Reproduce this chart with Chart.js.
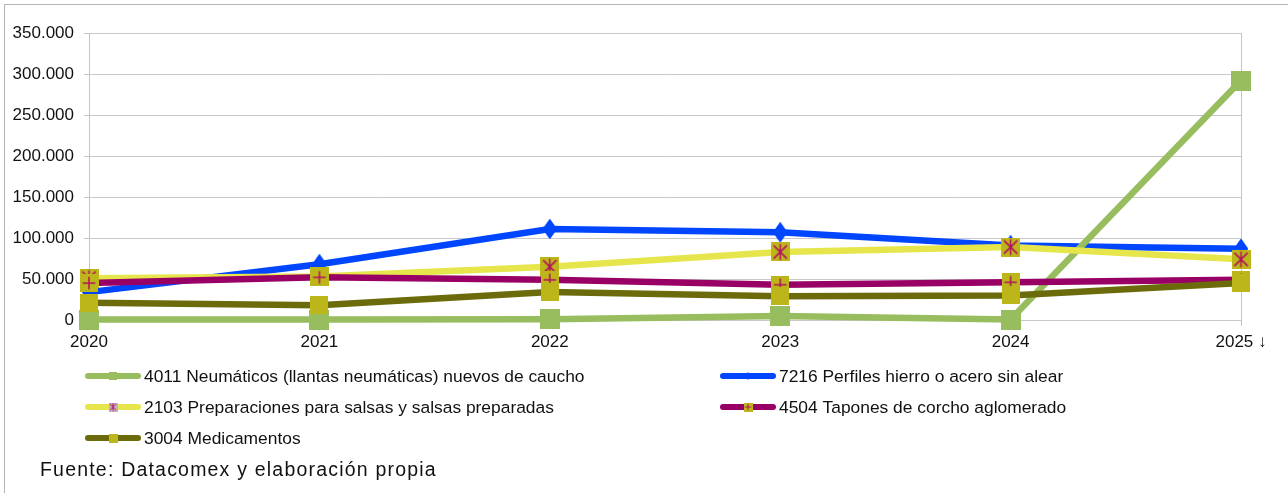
<!DOCTYPE html>
<html>
<head>
<meta charset="utf-8">
<script src="https://cdn.jsdelivr.net/npm/chart.js@4.4.1/dist/chart.umd.min.js"></script>
<style>
  html, body { margin: 0; padding: 0; background: #fff; }
  #wrap { position: relative; width: 1288px; height: 493px; overflow: hidden; }
  #frame { position: absolute; left: 4px; top: 4px; width: 1300px; height: 500px; border: 1px solid #b4b4b4; box-sizing: border-box; }
  canvas { position: absolute; left: 0; top: 0; }
</style>
</head>
<body>
<div id="wrap">
  <div id="frame"></div>
  <canvas id="chart" width="1288" height="493"></canvas>
</div>
<script>
// data
const years = ['2020', '2021', '2022', '2023', '2024', '2025 ↓'];
const neumaticos = [500, 600, 800, 5000, 500, 292000];
const perfiles = [34000, 68000, 111000, 107000, 91000, 87000];
const salsas = [51000, 53000, 65000, 83000, 89000, 74000];
const tapones = [45000, 52000, 49000, 43000, 46000, 49000];
const medicamentos = [21000, 18000, 34000, 29000, 30000, 45000];
const yTicks = [0, 50000, 100000, 150000, 200000, 250000, 300000, 350000];
const sourceText = 'Fuente: Datacomex y elaboración propia';

const FONT = '"Liberation Sans", Arial, sans-serif';
const markYellow = '#bdb61b';
const crossPurple = '#b0125c';

function fmt(v) {
  return String(v).replace(/\B(?=(\d{3})+(?!\d))/g, '.');
}

// marker images: square/diamond with optional overlay
function makeMarker(size, fill, shape, overlay) {
  const c = document.createElement('canvas');
  c.width = size; c.height = size;
  const g = c.getContext('2d');
  g.fillStyle = fill;
  if (shape === 'diamond') {
    g.beginPath();
    g.moveTo(size / 2, 0);
    g.lineTo(size * 0.85, size / 2);
    g.lineTo(size / 2, size);
    g.lineTo(size * 0.15, size / 2);
    g.closePath();
    g.fill();
  } else {
    g.fillRect(0, 0, size, size);
  }
  if (overlay) {
    const m = size * 0.15;
    g.strokeStyle = crossPurple;
    g.lineWidth = size > 10 ? 1.5 : 1;
    g.beginPath();
    if (overlay === 'star') {
      g.moveTo(m, m); g.lineTo(size - m, size - m);
      g.moveTo(size - m, m); g.lineTo(m, size - m);
      g.moveTo(size / 2, m * 0.5); g.lineTo(size / 2, size - m * 0.5);
    } else {
      g.moveTo(size / 2, m); g.lineTo(size / 2, size - m);
      g.moveTo(m, size / 2); g.lineTo(size - m, size / 2);
    }
    g.stroke();
  }
  return c;
}

// z: higher drawn on top (blue lowest, olive highest, as in the reference)
const series = [
  { label: '4011 Neumáticos (llantas neumáticas) nuevos de caucho', data: neumaticos, color: '#97bd5e', z: 2,
    marker: makeMarker(20, '#97bd5e', 'square'), legendMarker: makeMarker(8, '#97bd5e', 'square') },
  { label: '7216 Perfiles hierro o acero sin alear', data: perfiles, color: '#0046ff', z: 1,
    marker: makeMarker(20, '#0046ff', 'diamond'), legendMarker: makeMarker(8, '#0046ff', 'diamond') },
  { label: '2103 Preparaciones para salsas y salsas preparadas', data: salsas, color: '#e6e64c', z: 3,
    marker: makeMarker(19, markYellow, 'square', 'star'), legendMarker: makeMarker(9, '#c4b0c0', 'square', 'star') },
  { label: '4504 Tapones de corcho aglomerado', data: tapones, color: '#990066', z: 4,
    marker: makeMarker(18, markYellow, 'square', 'plus'), legendMarker: makeMarker(9, markYellow, 'square', 'plus') },
  { label: '3004 Medicamentos', data: medicamentos, color: '#6b6b0c', z: 5,
    marker: makeMarker(18, markYellow, 'square'), legendMarker: makeMarker(9, markYellow, 'square') }
];

const legendSpots = [
  { x: 85, y: 376 }, { x: 720, y: 376 },
  { x: 85, y: 407 }, { x: 720, y: 407 },
  { x: 85, y: 438 }
];

// markers go over all the lines
const markersOnTop = {
  id: 'markersOnTop',
  afterDatasetsDraw(chart) {
    const metas = chart.getSortedVisibleDatasetMetas().slice().reverse();
    metas.forEach(meta => {
      meta.data.forEach(pt => pt.draw(chart.ctx, chart.chartArea));
    });
  }
};

const legendPlugin = {
  id: 'sideLegend',
  afterDraw(chart) {
    const ctx = chart.ctx;
    ctx.save();
    series.forEach((s, i) => {
      const p = legendSpots[i];
      ctx.strokeStyle = s.color;
      ctx.lineWidth = 6;
      ctx.lineCap = 'round';
      ctx.beginPath();
      ctx.moveTo(p.x + 3, p.y);
      ctx.lineTo(p.x + 53, p.y);
      ctx.stroke();
      const m = s.legendMarker;
      ctx.drawImage(m, p.x + 28 - m.width / 2, p.y - m.height / 2);
      ctx.fillStyle = '#111';
      ctx.font = '17.4px ' + FONT;
      ctx.textBaseline = 'middle';
      ctx.fillText(s.label, p.x + 59, p.y + 1);
    });
    ctx.font = '19.5px ' + FONT;
    if ('letterSpacing' in ctx) ctx.letterSpacing = '1.2px';
    ctx.fillStyle = '#111';
    ctx.textBaseline = 'middle';
    ctx.fillText(sourceText, 40, 471);
    ctx.restore();
  }
};

const ctx = document.getElementById('chart').getContext('2d');
new Chart(ctx, {
  type: 'line',
  data: {
    labels: years,
    datasets: series.map(s => ({
      label: s.label,
      data: s.data,
      borderColor: s.color,
      backgroundColor: s.color,
      borderWidth: 6.5,
      tension: 0,
      fill: false,
      clip: false,
      pointStyle: s.marker,
      pointRadius: 10,
      pointHoverRadius: 10,
      order: 10 - s.z
    }))
  },
  options: {
    responsive: false,
    animation: false,
    layout: { padding: { left: 0, right: 47, top: 33, bottom: 143 } },
    plugins: {
      legend: { display: false },
      tooltip: { enabled: false }
    },
    scales: {
      x: {
        afterFit: (scale) => { scale.height = 30; },
        grid: {
          color: (c) => (c.index === 0 || c.index === years.length - 1) ? '#c4c4c4' : 'rgba(0,0,0,0)',
          tickColor: (c) => (c.index === 0 || c.index === years.length - 1) ? '#c4c4c4' : 'rgba(0,0,0,0)',
          tickLength: 6
        },
        border: { display: false },
        ticks: {
          color: '#111',
          font: { family: FONT, size: 17 },
          padding: 6,
          maxRotation: 0,
          autoSkip: false
        }
      },
      y: {
        min: 0,
        max: 350000,
        afterFit: (scale) => { scale.width = 89; },
        afterBuildTicks: (scale) => { scale.ticks = yTicks.map(v => ({ value: v })); },
        grid: { color: '#c8c8c8', tickLength: 5 },
        border: { display: true, color: '#c4c4c4' },
        ticks: {
          color: '#111',
          font: { family: FONT, size: 17 },
          padding: 10,
          callback: (v) => fmt(v)
        }
      }
    }
  },
  plugins: [markersOnTop, legendPlugin]
});
</script>
</body>
</html>
